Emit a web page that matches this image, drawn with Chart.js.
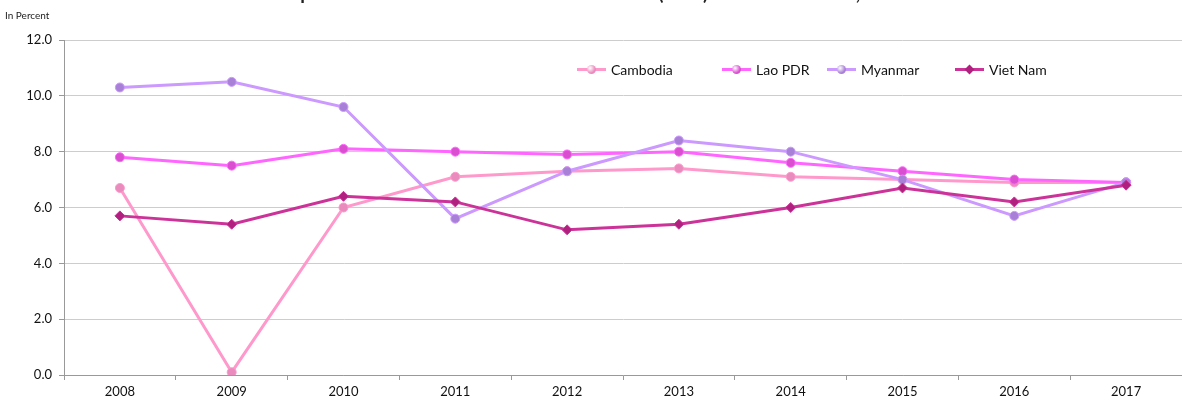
<!DOCTYPE html>
<html>
<head>
<meta charset="utf-8">
<script src="https://cdn.jsdelivr.net/npm/chart.js@4.4.1/dist/chart.umd.min.js"></script>
<style>
  body { margin: 0; background: #fff; overflow: hidden; font-family: Lato, "Open Sans", sans-serif; }
  #wrap { position: relative; width: 1182px; height: 406px; overflow: hidden; }
  #title { position: absolute; top: -19px; left: 0; width: 1230px; text-align: center; font-weight: bold; font-size: 19px; color: #222; white-space: nowrap; }
  #unit { position: absolute; left: 5px; top: 9px; font-size: 10px; color: #222; font-family: "Liberation Sans Narrow", Lato, sans-serif; }
  .leg { position: absolute; top: 61px; font-size: 14px; color: #111; display: flex; align-items: center; white-space: nowrap; }
  .leg .ln { position: relative; width: 29px; height: 3px; margin-right: 5px; }
  .leg .mk { position: absolute; left: 10px; top: -3px; width: 9px; height: 9px; border-radius: 50%; }
  .leg .dm { position: absolute; left: 11px; top: -2px; width: 7px; height: 7px; transform: rotate(45deg); }
</style>
</head>
<body>
<div id="wrap">
  <canvas id="myChart"></canvas>
  <div id="title">Graph: Estimates of Gross Domestic Products (GDP) Growth of CLMV, 2008-2017</div>
  <div id="unit">In Percent</div>
  <div id="legend"></div>
</div>
<script>
const years = ['2008', '2009', '2010', '2011', '2012', '2013', '2014', '2015', '2016', '2017'];
const cambodia = [6.7, 0.1, 6.0, 7.1, 7.3, 7.4, 7.1, 7.0, 6.9, 6.9];
const laoPdr = [7.8, 7.5, 8.1, 8.0, 7.9, 8.0, 7.6, 7.3, 7.0, 6.9];
const myanmar = [10.3, 10.5, 9.6, 5.6, 7.3, 8.4, 8.0, 7.0, 5.7, 6.9];
const vietNam = [5.7, 5.4, 6.4, 6.2, 5.2, 5.4, 6.0, 6.7, 6.2, 6.8];
const yTicks = [0, 2, 4, 6, 8, 10, 12];

const series = [
    { label: 'Cambodia', data: cambodia, line: '#ff99cc', dot: '#e98bbd', shape: 'circle', order: 3, legX: 577 },
    { label: 'Lao PDR', data: laoPdr, line: '#ff66ff', dot: '#d94fd0', shape: 'circle', order: 2, legX: 722 },
    { label: 'Myanmar', data: myanmar, line: '#cc99ff', dot: '#a880d6', shape: 'circle', order: 1, legX: 827 },
    { label: 'Viet Nam', data: vietNam, line: '#cc3399', dot: '#b0217f', shape: 'rectRot', order: 0, legX: 955 }
];

// legend as html, placed inside the plot like the original
const leg = document.getElementById('legend');
series.forEach(s => {
    const d = document.createElement('div');
    d.className = 'leg';
    d.style.left = s.legX + 'px';
    const marker = s.shape === 'circle'
        ? '<span class="mk" style="background:radial-gradient(circle at 35% 35%, #fff 0%, ' + s.dot + ' 60%)"></span>'
        : '<span class="dm" style="background:' + s.dot + '"></span>';
    d.innerHTML = '<span class="ln" style="background:' + s.line + '">' + marker + '</span>' + s.label;
    leg.appendChild(d);
});

const ctx = document.getElementById('myChart').getContext('2d');
const myChart = new Chart(ctx, {
    type: 'line',
    data: {
        labels: years,
        datasets: series.map(s => ({
            label: s.label,
            data: s.data,
            borderColor: s.line,
            borderWidth: 3,
            backgroundColor: s.dot,
            pointBackgroundColor: s.dot,
            pointBorderColor: s.line,
            pointBorderWidth: 1,
            pointStyle: s.shape,
            pointRadius: s.shape === 'circle' ? 4.5 : 5,
            tension: 0,
            order: s.order
        }))
    },
    options: {
        responsive: true,
        maintainAspectRatio: false,
        animation: false,
        layout: { autoPadding: false, padding: { top: 40, right: -3, left: 0, bottom: 0 } },
        plugins: {
            legend: { display: false },
            tooltip: { enabled: false }
        },
        scales: {
            x: {
                offset: true,
                grid: { offset: true, drawOnChartArea: false, drawTicks: true, tickLength: 5, color: '#999' },
                border: { color: '#999', width: 1 },
                ticks: { color: '#111', font: { family: 'Lato', size: 13 }, padding: 4, maxRotation: 0 },
                afterFit: scale => { scale.height = 31; }
            },
            y: {
                min: 0,
                max: 12,
                afterBuildTicks: scale => { scale.ticks = yTicks.map(v => ({ value: v })); },
                grid: { color: '#cdcdcd', tickLength: 5, tickColor: '#999' },
                border: { color: '#999', width: 1 },
                ticks: { color: '#111', font: { family: 'Lato', size: 13 }, padding: 7, callback: v => v.toFixed(1) },
                afterFit: scale => { scale.width = 64; }
            }
        }
    }
});
</script>
</body>
</html>
